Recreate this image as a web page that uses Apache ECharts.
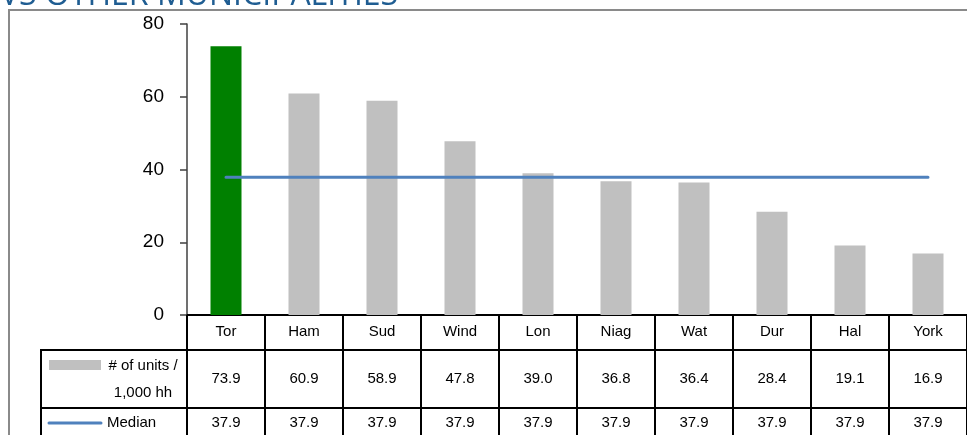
<!DOCTYPE html>
<html>
<head>
<meta charset="utf-8">
<script src="https://cdn.jsdelivr.net/npm/echarts@6/dist/echarts.min.js"></script>
<style>
  html, body { margin: 0; padding: 0; background: #fff; }
  #chart { width: 967px; height: 435px; }
</style>
</head>
<body>
<div id="chart"></div>
<script>
// Rental units per 1,000 households, by municipality, with the group median
const categories = ['Tor', 'Ham', 'Sud', 'Wind', 'Lon', 'Niag', 'Wat', 'Dur', 'Hal', 'York'];
const unitsPerThousand = [73.9, 60.9, 58.9, 47.8, 39.0, 36.8, 36.4, 28.4, 19.1, 16.9];
const medianValues = [37.9, 37.9, 37.9, 37.9, 37.9, 37.9, 37.9, 37.9, 37.9, 37.9];
const highlighted = 'Tor';
const unitsName = '# of units / 1,000 hh';
const medianName = 'Median';
const titleText = 'VS OTHER MUNICIPALITIES';

const GREEN = '#008000';
const GREY = '#c0c0c0';
const BLUE = '#4f81bd';
const FONT = '"Liberation Sans", Arial, sans-serif';
const TABLE_FONT = '15px ' + FONT;

// data-table row offsets below the category axis (pixels)
const ROW1_BOTTOM = 35;
const ROW2_BOTTOM = 93;
const TABLE_BOTTOM = 140;

const chart = echarts.init(document.getElementById('chart'));

function renderTableColumn(params, api) {
  const i = api.value(0);
  const base = api.coord([i, 0]);
  const w = api.size([1, 0])[0];
  const cx = base[0];
  const y0 = base[1];
  const left = cx - w / 2;
  const right = cx + w / 2;
  const lineStyle = { stroke: '#000', lineWidth: 2 };
  const cellText = (txt, y) => ({
    type: 'text',
    style: {
      x: cx, y: y, text: txt, fill: '#000',
      font: TABLE_FONT, align: 'center', verticalAlign: 'middle'
    }
  });
  return {
    type: 'group',
    children: [
      { type: 'line', shape: { x1: left, y1: y0, x2: left, y2: y0 + TABLE_BOTTOM }, style: lineStyle },
      { type: 'line', shape: { x1: right, y1: y0, x2: right, y2: y0 + TABLE_BOTTOM }, style: lineStyle },
      { type: 'line', shape: { x1: left - 1, y1: y0 + ROW1_BOTTOM, x2: right + 1, y2: y0 + ROW1_BOTTOM }, style: lineStyle },
      { type: 'line', shape: { x1: left - 1, y1: y0 + ROW2_BOTTOM, x2: right + 1, y2: y0 + ROW2_BOTTOM }, style: lineStyle },
      cellText(api.value(1).toFixed(1), y0 + (ROW1_BOTTOM + ROW2_BOTTOM) / 2),
      cellText(api.value(2).toFixed(1), y0 + ROW2_BOTTOM + 15)
    ]
  };
}

const option = {
  animation: false,
  grid: { left: 187, right: 0, top: 24, bottom: 120, containLabel: false },
  xAxis: {
    type: 'category',
    data: categories,
    axisLine: { lineStyle: { color: '#000', width: 2 } },
    axisTick: { show: false },
    axisLabel: {
      color: '#000', fontSize: 15, fontFamily: FONT,
      margin: 17, verticalAlign: 'middle'
    }
  },
  yAxis: {
    type: 'value',
    min: 0, max: 80, interval: 20,
    splitLine: { show: false },
    axisLine: { show: true, lineStyle: { color: '#404040', width: 1.5 } },
    axisTick: { show: true, length: 7, lineStyle: { color: '#404040', width: 1.5 } },
    axisLabel: { color: '#000', fontSize: 19, fontFamily: FONT, margin: 23 }
  },
  series: [
    {
      name: unitsName,
      type: 'bar',
      barWidth: 31,
      data: unitsPerThousand.map((v, i) => ({
        value: v,
        itemStyle: { color: categories[i] === highlighted ? GREEN : GREY }
      })),
      z: 2
    },
    {
      name: medianName,
      type: 'line',
      data: medianValues,
      symbol: 'none',
      lineStyle: { color: BLUE, width: 3, cap: 'round' },
      z: 3
    },
    {
      type: 'custom',
      silent: true,
      clip: false,
      renderItem: renderTableColumn,
      encode: { x: 0, y: 1 },
      data: categories.map((c, i) => [i, unitsPerThousand[i], medianValues[i]]),
      z: 4
    }
  ],
  graphic: [
    {
      type: 'text', x: 0, y: -20, silent: true,
      style: { text: titleText, font: '400 32px "Open Sans", sans-serif', fill: '#1f5d92' }
    },
    {
      type: 'rect', silent: true,
      shape: { x: 9, y: 10, width: 980, height: 460 },
      style: { fill: 'none', stroke: '#8a8a8a', lineWidth: 2 }
    },
    // legend column of the data table
    { type: 'line', silent: true, shape: { x1: 41, y1: 350, x2: 187, y2: 350 }, style: { stroke: '#000', lineWidth: 2 } },
    { type: 'line', silent: true, shape: { x1: 41, y1: 408, x2: 187, y2: 408 }, style: { stroke: '#000', lineWidth: 2 } },
    { type: 'line', silent: true, shape: { x1: 41, y1: 349, x2: 41, y2: 440 }, style: { stroke: '#000', lineWidth: 2 } },
    { type: 'rect', silent: true, shape: { x: 49, y: 360, width: 52, height: 10 }, style: { fill: GREY } },
    {
      type: 'text', silent: true,
      style: { x: 143, y: 366, text: '# of units /', fill: '#000', font: TABLE_FONT, align: 'center', verticalAlign: 'middle' }
    },
    {
      type: 'text', silent: true,
      style: { x: 143, y: 393, text: '1,000 hh', fill: '#000', font: TABLE_FONT, align: 'center', verticalAlign: 'middle' }
    },
    { type: 'line', silent: true, shape: { x1: 49, y1: 423, x2: 101, y2: 423 }, style: { stroke: BLUE, lineWidth: 3, lineCap: 'round' } },
    {
      type: 'text', silent: true,
      style: { x: 107, y: 423, text: medianName, fill: '#000', font: TABLE_FONT, align: 'left', verticalAlign: 'middle' }
    }
  ]
};

chart.setOption(option);
</script>
</body>
</html>
